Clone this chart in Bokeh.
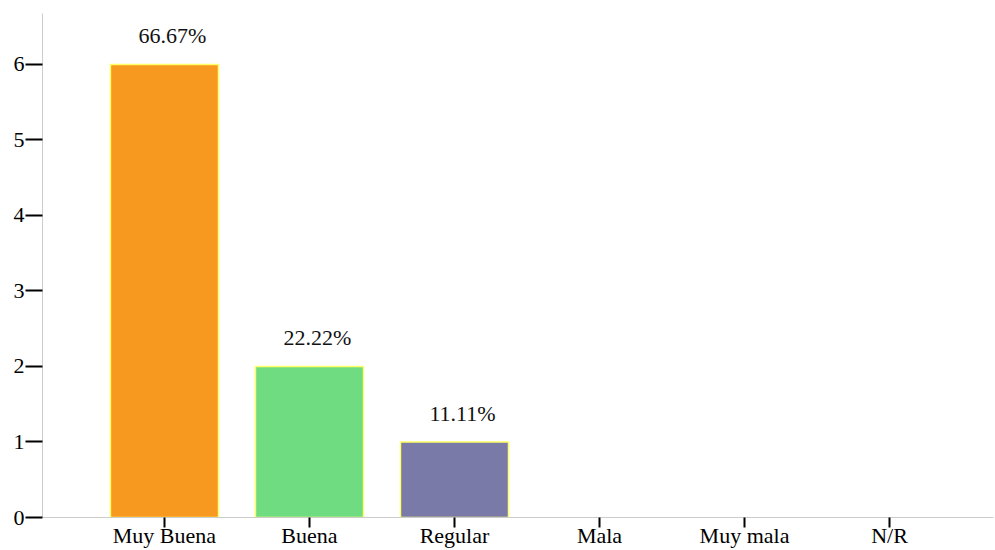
from bokeh.plotting import figure
from bokeh.models import ColumnDataSource, FixedTicker, Range1d, CDSView, BooleanFilter
from bokeh.core.properties import value
from bokeh.embed import file_html
from bokeh.resources import INLINE

categories = ["Muy Buena", "Buena", "Regular", "Mala", "Muy mala", "N/R"]
counts = [6, 2, 1, 0, 0, 0]
pct_labels = ["66.67%", "22.22%", "11.11%", "", "", ""]
colors = ["#F7981F", "#70DC82", "#7A7AA8", "#F7981F", "#70DC82", "#7A7AA8"]
y_ticks = [0, 1, 2, 3, 4, 5, 6]

FONT = "Liberation Serif"

xs = list(range(len(categories)))
src = ColumnDataSource(dict(x=xs, top=counts, color=colors, label=pct_labels))
nonzero = CDSView(filter=BooleanFilter([c > 0 for c in counts]))

p = figure(width=995, height=550, output_backend="svg", toolbar_location=None,
           x_range=Range1d(-0.841, 5.717), y_range=Range1d(0, 6.675),
           min_border_left=42, min_border_right=2, min_border_top=13, min_border_bottom=33)
p.outline_line_color = None
p.grid.visible = False

p.vbar(x="x", top="top", width=0.745, bottom=0, source=src, view=nonzero,
       fill_color="color", line_color="#FFFF66", line_width=1.5)

p.text(x="x", y="top", text="label", source=src, view=nonzero, x_offset=8, y_offset=-16,
       text_align="center", text_baseline="bottom",
       text_font=value(FONT), text_font_size="22px", text_color="#111111")

for ax in (p.xaxis[0], p.yaxis[0]):
    ax.axis_line_color = "#CCCCCC"
    ax.axis_line_width = 1
    ax.major_tick_line_color = "black"
    ax.major_tick_line_width = 2
    ax.major_tick_in = 0
    ax.minor_tick_line_color = None
    ax.major_label_text_font = FONT
    ax.major_label_text_font_size = "22px"
    ax.major_label_text_color = "black"

p.yaxis.ticker = FixedTicker(ticks=y_ticks)
p.yaxis.major_tick_out = 17
p.yaxis.major_label_standoff = 1

p.xaxis.ticker = FixedTicker(ticks=xs)
p.xaxis.major_label_overrides = {i: c for i, c in zip(xs, categories)}
p.xaxis.major_tick_out = 10
p.xaxis.major_label_standoff = -5

open("out.html", "w").write(file_html(p, INLINE))
